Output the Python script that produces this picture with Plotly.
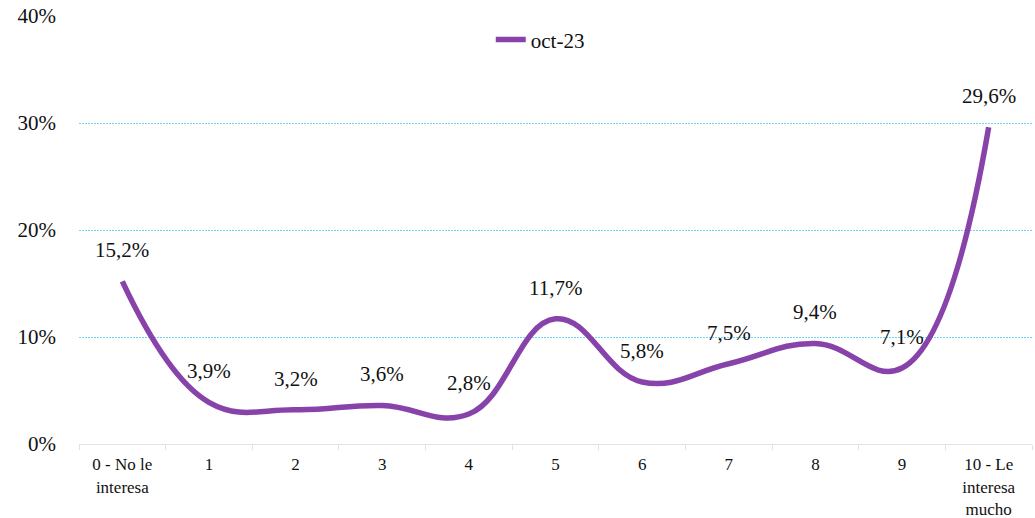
import plotly.graph_objects as go

categories = ["0 - No le<br>interesa", "1", "2", "3", "4", "5", "6", "7", "8", "9", "10 - Le<br>interesa<br>mucho"]
values = [15.2, 3.9, 3.2, 3.6, 2.8, 11.7, 5.8, 7.5, 9.4, 7.1, 29.6]
series_name = "oct-23"
y_ticks = [0, 10, 20, 30, 40]

FONT = "Liberation Serif"
PURPLE = "#8843AA"

fig = go.Figure()
fig.add_trace(go.Scatter(
    x=categories, y=values, name=series_name,
    mode="lines",
    line=dict(color=PURPLE, width=5.5, shape="spline", smoothing=1.2),
    hoverinfo="skip",
))

for c, v in zip(categories, values):
    fig.add_annotation(
        x=c, y=v, text=f"{v:.1f}".replace(".", ",") + "%",
        showarrow=False, yshift=31,
        font=dict(family=FONT, size=21, color="#111111"),
    )

fig.update_layout(
    width=1035, height=518,
    margin=dict(l=79, r=3, t=16, b=74, autoexpand=False),
    paper_bgcolor="white", plot_bgcolor="white",
    font=dict(family=FONT, size=20, color="#111111"),
    separators=",.",
    showlegend=True,
    legend=dict(
        x=0.484, y=0.944, xanchor="center", yanchor="middle",
        orientation="h", bgcolor="rgba(0,0,0,0)",
        font=dict(family=FONT, size=21, color="#111111"),
    ),
)

fig.update_xaxes(
    type="category", automargin=False,
    range=[-0.5, len(categories) - 0.5],
    showgrid=False,
    showline=True, linecolor="#E3E3E3", linewidth=1,
    ticks="outside", tickson="boundaries", ticklen=5, tickcolor="#E3E3E3",
    tickfont=dict(family=FONT, size=17, color="#111111"),
    ticklabelstandoff=5,
    zeroline=False,
)
fig.update_yaxes(
    range=[0, 40], automargin=False,
    tickvals=y_ticks,
    ticktext=[f"{t}%" for t in y_ticks],
    showgrid=True, gridcolor="#6FD3F4", gridwidth=1, griddash="2px,1px",
    zeroline=False, showline=False,
    tickfont=dict(family=FONT, size=21, color="#111111"),
    ticklabelstandoff=22,
)

fig.write_html(
    "out.html",
    config={"displayModeBar": False},
    post_script="document.body.style.margin='0';document.body.style.overflow='hidden';",
)
